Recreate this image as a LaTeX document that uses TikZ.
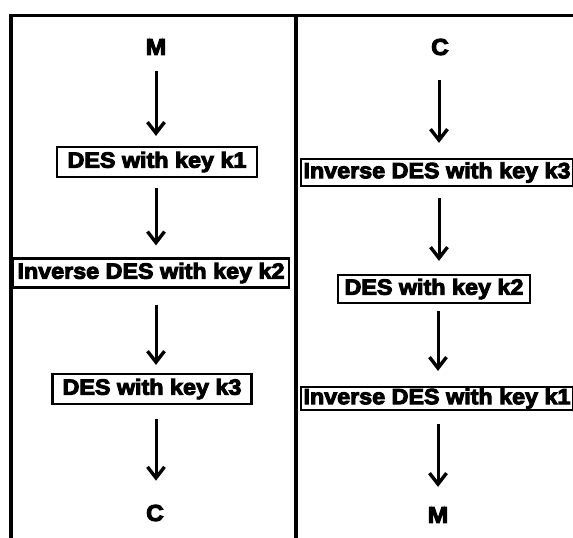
\documentclass[tikz,border=0pt]{standalone}
\usepackage{fontspec}
\newfontfamily\blk{Liberation Sans Bold}[FakeStretch=1.06,FakeBold=4.5]
\usetikzlibrary{arrows.meta}
\begin{document}
\begin{tikzpicture}[x=1pt,y=-1pt,
  lbl/.style={font=\blk\fontsize{23}{24}\selectfont, inner sep=0pt},
  stage/.style={draw, line width=2.2pt, font=\blk\fontsize{22}{23}\selectfont, inner sep=0pt, align=center},
  flow/.style={line width=3pt, -{Straight Barb[length=11pt,width=17pt,line width=3.4pt]}}]
\useasboundingbox (0,0) rectangle (573,538);
% frame
\draw[line width=3pt] (9,15) -- (573,15);
\draw[line width=4.5pt] (11,14) -- (11,538);
\draw[line width=4.5pt] (296,14) -- (296,538);
% left column: encryption
\node[lbl] (M1) at (156,47) {M};
\node[stage, minimum width=200pt, minimum height=30pt] (L1) at (157,162) {DES with key k1};
\node[stage, minimum width=276pt, minimum height=29pt] (L2) at (151,273) {Inverse DES with key k2};
\node[stage, minimum width=199pt, minimum height=30pt] (L3) at (152,389) {DES with key k3};
\node[lbl] (C1) at (155,513) {C};
\draw[flow, shorten <=16pt, shorten >=10pt] (M1.south -| 156,0) -- (L1.north -| 156,0);
\draw[flow, shorten <=10pt, shorten >=12pt] (L1.south -| 156,0) -- (L2.north -| 156,0);
\draw[flow, shorten <=16pt, shorten >=8pt] (L2.south -| 156,0) -- (L3.north -| 156,0);
\draw[flow, shorten <=14pt, shorten >=24pt] (L3.south -| 156,0) -- (C1.north -| 156,0);
% right column: decryption
\node[lbl] (C2) at (440,47) {C};
\node[stage, minimum width=272pt, minimum height=27pt] (R1) at (437,172.5) {Inverse DES with key k3};
\node[stage, minimum width=192pt, minimum height=28pt] (R2) at (434,289) {DES with key k2};
\node[stage, minimum width=272pt, minimum height=23pt] (R3) at (437,398.5) {Inverse DES with key k1};
\node[lbl] (M2) at (438,515) {M};
\draw[flow, shorten <=25pt, shorten >=15pt] (C2.south -| 439,0) -- (R1.north -| 439,0);
\draw[flow, shorten <=11pt, shorten >=13pt] (R1.south -| 439,0) -- (R2.north -| 439,0);
\draw[flow, shorten <=7pt, shorten >=15pt] (R2.south -| 438,0) -- (R3.north -| 438,0);
\draw[flow, shorten <=13pt, shorten >=20pt] (R3.south -| 438,0) -- (M2.north -| 438,0);
\end{tikzpicture}
\end{document}
